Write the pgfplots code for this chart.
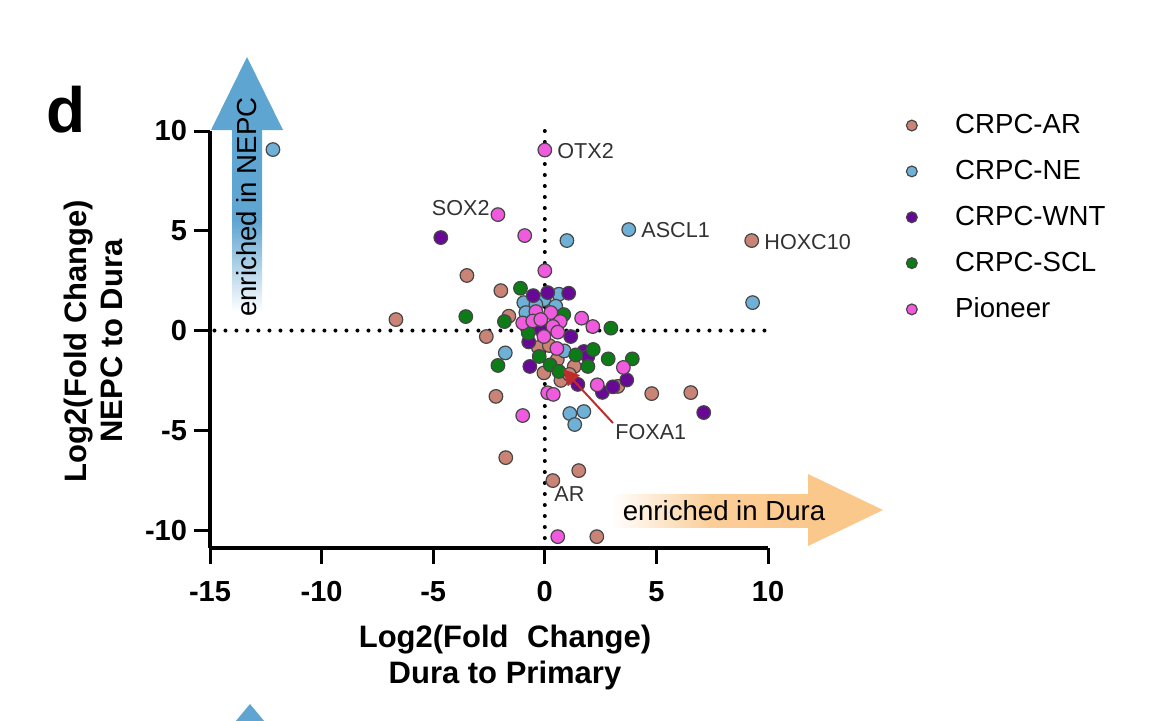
\documentclass[border=0pt]{standalone}
\usepackage{pgfplots}
\pgfplotsset{compat=1.18}
\usepackage{fontspec}
\setmainfont{Liberation Sans}
\usetikzlibrary{arrows.meta}
\definecolor{cAR}{RGB}{201,132,118}
\definecolor{cNE}{RGB}{110,176,214}
\definecolor{cWNT}{RGB}{104,8,150}
\definecolor{cSCL}{RGB}{12,125,22}
\definecolor{cPI}{RGB}{240,90,222}
\definecolor{mkdraw}{RGB}{70,70,70}
\definecolor{nepcA}{RGB}{95,165,210}
\definecolor{duraA}{RGB}{251,200,140}
\definecolor{annot}{RGB}{50,50,50}
\definecolor{foxa}{RGB}{190,45,45}
\begin{document}
\begin{tikzpicture}
\begin{scope}[x=0.5pt,y=-0.5pt]
\path[use as bounding box] (0,0) rectangle (1170,720);
% blue arrow
\shade[top color=nepcA, bottom color=white, middle color=nepcA] (232,129) rectangle (262,312);
\fill[nepcA] (211,130) -- (283,130) -- (247,57) -- cycle;
% orange arrow
\shade[left color=white, right color=duraA, middle color=duraA!90] (612,494) rectangle (809,527);
\fill[duraA] (808,474) -- (808,546) -- (883,510) -- cycle;
% partial arrow of next panel
\fill[nepcA] (235,722) -- (265,722) -- (250,704) -- cycle;
\end{scope}

\begin{axis}[
  at={(105pt,-274pt)}, anchor=south west,
  scale only axis, width=279pt, height=208.5pt,
  xmin=-15, xmax=10, ymin=-10.9, ymax=10,
  axis x line=bottom, axis y line=left,
  axis line style={-, line width=2pt, black},
  clip=false,
  xtick={-15,-10,-5,0,5,10}, xticklabels={-15,-10,-5,0,5,10},
  ytick={-10,-5,0,5,10}, yticklabels={-10,-5,0,5,10},
  tick align=outside, major tick length=8pt,
  tick style={line width=1.5pt, black},
  xticklabel style={font=\fontsize{14.5}{16}\selectfont\bfseries, yshift=-5pt},
  yticklabel style={font=\fontsize{14.5}{16}\selectfont\bfseries},
  /pgf/number format/assume math mode=true,
  legend style={at={(1.2366,1.06)}, anchor=north west, draw=none, fill=none,
    font=\fontsize{13.8}{15}\selectfont, row sep=7.8pt,
    /tikz/every odd column/.append style={column sep=17pt}},
  legend cell align=left,
  legend image code/.code={\draw[mark repeat=2,mark phase=2,#1,mark size=2.7pt] plot coordinates {(0cm,0cm) (0.3cm,0cm) (0.6cm,0cm)};},
  every axis plot/.append style={only marks, mark=*, mark size=3.4pt},
]
% dotted reference lines
\draw[line width=2pt, dash pattern=on 0pt off 5.5pt, line cap=round] (axis cs:-14.8,0) -- (axis cs:9.9,0);
\draw[line width=2pt, dash pattern=on 0pt off 5.5pt, line cap=round] (axis cs:0,10) -- (axis cs:0,-10.5);

\addplot[mark options={fill=cAR, draw=mkdraw, line width=0.6pt}] table {
x y
9.27 4.51
-6.67 0.55
-3.49 2.76
-1.97 2.0
-2.62 -0.3
-2.19 -3.3
-1.75 -6.37
0.36 -7.52
1.52 -7.02
2.33 -10.33
4.79 -3.16
6.54 -3.11
-1.61 0.72
-0.29 -0.85
0.20 -0.75
0.56 -1.45
-0.04 -2.12
1.32 -1.8
0.72 -2.5
3.27 -2.8
1.1 -2.2
};
\addplot[mark options={fill=cNE, draw=mkdraw, line width=0.6pt}] table {
x y
-12.18 9.07
0.99 4.51
3.76 5.06
9.31 1.40
1.12 -4.16
1.75 -4.06
1.34 -4.71
-0.94 1.4
-0.04 1.55
0.63 1.82
0.49 1.22
-0.4 1.3
-0.85 0.9
-1.77 -1.12
0.87 -1.02
};
\addplot[mark options={fill=cWNT, draw=mkdraw, line width=0.6pt}] table {
x y
-4.66 4.66
7.12 -4.11
-0.52 1.75
0.13 1.9
1.07 1.87
-0.18 0.05
1.16 -0.3
-0.72 -0.57
1.75 -1.05
1.93 -1.3
-0.67 -1.8
1.48 -2.7
2.58 -3.1
3.05 -2.82
3.67 -2.48
};
\addplot[mark options={fill=cSCL, draw=mkdraw, line width=0.6pt}] table {
x y
-3.54 0.70
-1.09 2.12
0.85 0.8
-1.81 0.45
2.96 0.12
-0.74 -0.12
1.39 -1.22
2.17 -0.95
2.84 -1.42
3.92 -1.42
-2.1 -1.75
-0.25 -1.3
0.24 -1.72
1.93 -1.8
0.63 -2.05
};
\addplot[mark options={fill=cPI, draw=mkdraw, line width=0.6pt}] table {
x y
0 9.05
-2.1 5.81
-0.9 4.76
0 3.0
-0.99 -4.26
0.58 -10.33
-0.4 0.95
0.27 0.9
-0.99 0.38
-0.54 0.48
-0.18 0.55
0.69 0.45
1.65 0.62
2.15 0.2
0.36 0.2
0.58 -0.08
-0.04 -0.3
0.54 -0.9
3.52 -1.85
2.35 -2.72
0.13 -3.12
0.38 -3.2
};
\legend{CRPC-AR,CRPC-NE,CRPC-WNT,CRPC-SCL,Pioneer}
\end{axis}

\begin{scope}[x=0.5pt,y=-0.5pt]
% arrow texts
\node[font=\fontsize{13.8}{16}\selectfont, rotate=90] at (247,207) {enriched in NEPC};
\node[font=\fontsize{13.8}{16}\selectfont] at (724,511) {enriched in Dura};
% gene labels
\node[font=\fontsize{10.8}{12}\selectfont, text=annot, anchor=west, inner sep=0pt] at (557,151) {OTX2};
\node[font=\fontsize{10.8}{12}\selectfont, text=annot, anchor=east, inner sep=0pt] at (490,208) {SOX2};
\node[font=\fontsize{10.8}{12}\selectfont, text=annot, anchor=west, inner sep=0pt] at (641,230) {ASCL1};
\node[font=\fontsize{10.8}{12}\selectfont, text=annot, anchor=west, inner sep=0pt] at (764,242) {HOXC10};
\node[font=\fontsize{10.8}{12}\selectfont, text=annot, anchor=west, inner sep=0pt] at (615,432) {FOXA1};
\node[font=\fontsize{10.8}{12}\selectfont, text=annot, anchor=west, inner sep=0pt] at (554,494) {AR};
\draw[foxa, line width=1pt, -{Triangle[length=8pt,width=8pt]}] (613,423) -- (563,369);
% axis titles
\node[font=\fontsize{15.5}{18}\selectfont\bfseries, align=center] at (505,657) {Log2(Fold\hspace{0.6em}Change)\\Dura to Primary};
\node[font=\fontsize{15.5}{18}\selectfont\bfseries, align=center, rotate=90] at (93,341) {Log2(Fold Change)\\NEPC to Dura};
% panel letter
\node[font=\fontsize{32}{36}\selectfont\bfseries, anchor=base west, inner sep=0pt] at (46,132) {d};
\end{scope}
\end{tikzpicture}
\end{document}
